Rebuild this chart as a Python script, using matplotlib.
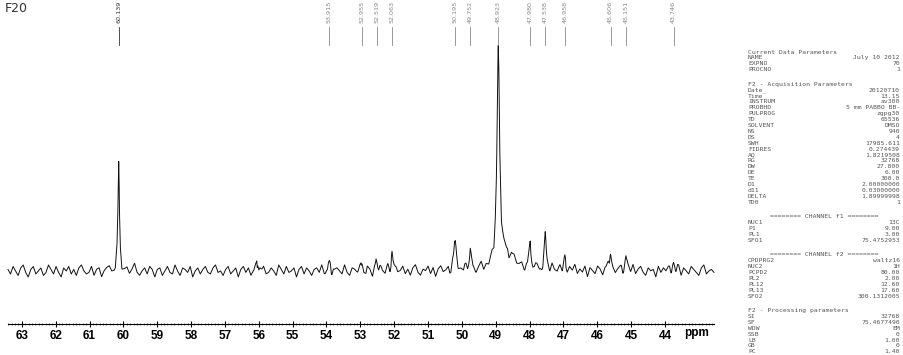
import numpy as np
import matplotlib
matplotlib.use("Agg")
import matplotlib.pyplot as plt
from matplotlib.ticker import MultipleLocator, FixedLocator

# ---------------- data ----------------
peak_labels = [60.139, 53.915, 52.955, 52.519, 52.063, 50.195, 49.752,
               48.923, 47.980, 47.538, 46.958, 45.606, 45.151, 43.746]
# peak centres (ppm), heights (intensity units), half widths (ppm)
peak_ppm = [60.139, 56.03, 53.915, 52.955, 52.519, 52.063, 50.195, 49.752,
            48.923, 48.65, 47.980, 47.538, 46.958, 45.606, 45.151, 43.746]
peak_height = [108, 8, 6, 7, 11, 18, 28, 18,
               218, 15, 21, 35, 14, 18, 15, 7]
peak_hwhm = [0.025, 0.03, 0.03, 0.03, 0.03, 0.03, 0.04, 0.04,
             0.045, 0.28, 0.04, 0.035, 0.035, 0.035, 0.035, 0.03]

noise = [
    1, -2, 3, 0, -3, 2, 4, -1, -4, 1, 3, -2, 0, 2, -3, -1, 4, 1, -2, 3,
    -1, -4, 2, 0, 3, -2, 1, -3, 2, 4, 0, -2, -1, 3, -3, 1, 2, -4, 0, 2,
    3, -1, -2, 4, 1, -3, 0, 2, -2, 1, 5, -1, -3, 0, 2, -2, 3, 1, -4, 1,
    2, -3, 0, 3, -1, -2, 4, 0, -3, 2, 1, -1, 3, -4, 0, 2, -2, 1, 3, -1,
    -2, 2, 4, -1, 0, -3, 1, 3, -2, 0, 2, -4, 1, 3, -1, 2, -3, 0, 4, -2,
    1, 3, -2, -1, 2, 0, -3, 4, 1, -2, 3, -1, 0, 2, -4, 1, 3, -2, 2, 0,
    -3, 1, 2, -1, 4, -2, 0, 3, -3, 1, 2, 0, -2, 4, -1, -3, 2, 1, -1, 3,
    0, -2, 3, 1, -4, 2, -1, 3, 0, -2, 4, -3, 1, 2, -1, 0, 3, -2, 1, -3,
    2, 4, -1, -3, 1, 0, 3, -2, 2, -4, 1, 3, -1, 0, 2, -3, 4, 1, -2, 0,
    -1, 3, -2, 2, 0, -3, 1, 4, -2, 1, -1, 3, -3, 2, 0, -2, 3, 1, -4, 2,
    3, -1, 0, 2, -3, 1, 4, -2, 0, 3, -1, -3, 2, 1, -2, 4, 0, -1, 3, -2,
    1, -3, 2, 0, 4, -2, 1, -1, 3, -4, 2, 0, -2, 3, 1, -3, 2, 4, -1, 0,
    -2, 1, 3, -3, 0, 2, -1, 4, -2, 1, 3, -1, -3, 2, 0, 1, -4, 3, -1, 2,
    0, 3, -2, 1, -1, 4, -3, 2, 0, -2, 3, 1, -1, -3, 2, 4, -2, 0, 1, -1,
]
noise_scale = 1.5

tick_values = list(range(44, 64))

params = [
    ("H", "Current Data Parameters"),
    ("NAME", "July 10 2012"), ("EXPNO", "70"), ("PROCNO", "1"),
    ("G", None),
    ("H", "F2 - Acquisition Parameters"),
    ("Date_", "20120710"), ("Time", "13.15"), ("INSTRUM", "av300"),
    ("PROBHD", "5 mm PABBO BB-"), ("PULPROG", "zgpg30"), ("TD", "65536"),
    ("SOLVENT", "DMSO"), ("NS", "940"), ("DS", "4"), ("SWH", "17985.611"),
    ("FIDRES", "0.274439"), ("AQ", "1.8219508"), ("RG", "32768"),
    ("DW", "27.800"), ("DE", "6.00"), ("TE", "300.0"), ("D1", "2.00000000"),
    ("d11", "0.03000000"), ("DELTA", "1.89999998"), ("TD0", "1"),
    ("G", None),
    ("H", "======== CHANNEL f1 ========"),
    ("NUC1", "13C"), ("P1", "9.00"), ("PL1", "3.00"), ("SFO1", "75.4752953"),
    ("G", None),
    ("H", "======== CHANNEL f2 ========"),
    ("CPDPRG2", "waltz16"), ("NUC2", "1H"), ("PCPD2", "80.00"),
    ("PL2", "2.00"), ("PL12", "12.60"), ("PL13", "17.60"),
    ("SFO2", "300.1312005"),
    ("G", None),
    ("H", "F2 - Processing parameters"),
    ("SI", "32768"), ("SF", "75.4677490"), ("WDW", "EM"), ("SSB", "0"),
    ("LB", "1.00"), ("GB", "0"), ("PC", "1.40"),
]

# ---------------- figure ----------------
W, H = 904, 355
fig = plt.figure(figsize=(W / 100, H / 100), dpi=100)
fig.patch.set_facecolor("white")

X_LEFT, X_RIGHT = 8, 714
Y_AXIS = 324
ax = fig.add_axes([X_LEFT / W, (H - Y_AXIS) / H, (X_RIGHT - X_LEFT) / W, Y_AXIS / H])
ax.set_xlim(63.41, 42.55)
ax.set_ylim(-53, 271)

# build spectrum
ppm_grid = np.linspace(63.41, 42.55, len(noise))
extra = []
for c, w in zip(peak_ppm, peak_hwhm):
    for k in (-4, -2, -1, -0.5, 0, 0.5, 1, 2, 4):
        extra.append(c + k * w)
xs = np.sort(np.concatenate([ppm_grid, np.array(extra)]))[::-1]
noise_arr = np.array(noise, dtype=float) * noise_scale
idx = np.abs(xs[:, None] - ppm_grid[None, :]).argmin(axis=1)
ys = noise_arr[idx].copy()
for c, h, w in zip(peak_ppm, peak_height, peak_hwhm):
    ys += h * w ** 2 / ((xs - c) ** 2 + w ** 2)
ax.plot(xs, ys, color="#111111", lw=0.7, clip_on=False)

# peak labels
for i, v in enumerate(peak_labels):
    col = "#333333" if i == 0 else "#888888"
    ax.plot([v, v], [226, 244], color=col, lw=0.6, clip_on=False)
    ax.text(v, 248, f"{v:.3f}", rotation=90, ha="center", va="bottom",
            fontsize=4.6, color=col, clip_on=False)

# axis styling
for s in ("top", "left", "right"):
    ax.spines[s].set_visible(False)
ax.spines["bottom"].set_linewidth(0.8)
ax.set_yticks([])
ax.xaxis.set_major_locator(FixedLocator(tick_values))
ax.xaxis.set_minor_locator(MultipleLocator(0.1))
ax.tick_params(axis="x", which="major", direction="inout", length=5, width=0.8, pad=1.5)
ax.tick_params(axis="x", which="minor", direction="inout", length=2, width=0.4)
ax.set_xticklabels([str(t) for t in tick_values], fontsize=8.5, fontweight="bold",
                   family="Liberation Sans")
ax.patch.set_alpha(0)

fig.text(697 / W, 1 - 333 / H, "ppm", ha="center", va="center", fontsize=8.5,
         fontweight="bold", family="Liberation Sans")
fig.text(5 / W, 1 - 9 / H, "F20", ha="left", va="center", fontsize=9, color="#333333")

# parameter panel
FS = 4.6
y = 52.0
step, gap = 5.9, 14.5
for key, val in params:
    if key == "G":
        y += gap - step
        continue
    if key == "H":
        x0 = 770 if val.startswith("=") else 748
        fig.text(x0 / W, 1 - y / H, val, ha="left", va="center", fontsize=FS,
                 family="DejaVu Sans Mono", color="#555555")
    else:
        fig.text(748 / W, 1 - y / H, key, ha="left", va="center", fontsize=FS,
                 family="DejaVu Sans Mono", color="#555555")
        fig.text(900 / W, 1 - y / H, val, ha="right", va="center", fontsize=FS,
                 family="DejaVu Sans Mono", color="#555555")
    y += step

fig.savefig("out.png", dpi=100, facecolor="white")
